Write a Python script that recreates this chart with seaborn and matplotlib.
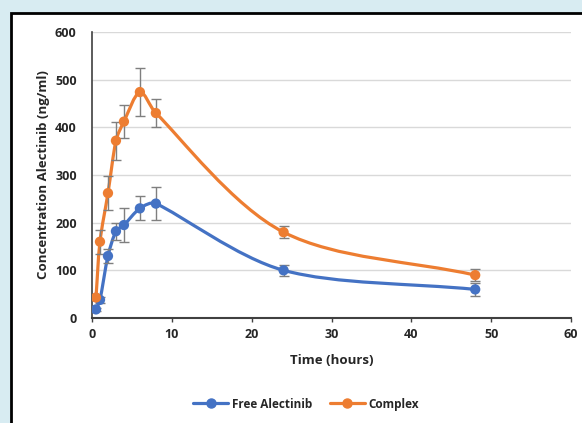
import matplotlib
matplotlib.use("Agg")
import matplotlib.pyplot as plt
import seaborn as sns
import numpy as np
import pandas as pd
from matplotlib.path import Path
from matplotlib.patches import PathPatch, Rectangle
from matplotlib.lines import Line2D

time_h = [0.5, 1, 2, 3, 4, 6, 8, 24, 48]
free_vals = [18, 38, 130, 182, 195, 230, 240, 100, 60]
free_err = [4, 6, 14, 18, 35, 25, 35, 12, 13]
complex_vals = [43, 160, 262, 372, 412, 474, 430, 180, 90]
complex_err = [5, 25, 35, 40, 35, 50, 30, 12, 12]
series_names = ["Free Alectinib", "Complex"]
x_ticks = [0, 10, 20, 30, 40, 50, 60]
y_ticks = [0, 100, 200, 300, 400, 500, 600]

colors = {"Free Alectinib": "#4472C4", "Complex": "#ED7D31"}

sns.set_theme(style="white")
plt.rcParams["font.family"] = ["Open Sans", "DejaVu Sans"]

fig = plt.figure(figsize=(5.82, 4.23), dpi=100, facecolor="#d8ecf2")
fig.patches.append(Rectangle((11 / 582, -0.1), 1.2, (423 - 13) / 423 + 0.1,
                             transform=fig.transFigure, facecolor="white",
                             edgecolor="black", linewidth=2, zorder=-5))
ax = fig.add_axes([92 / 582, (423 - 318) / 423, (571 - 92) / 582, (318 - 32) / 423])
ax.set_zorder(2)
ax.set_facecolor("white")

df = pd.concat([
    pd.DataFrame({"t": time_h, "v": free_vals, "e": free_err, "s": series_names[0]}),
    pd.DataFrame({"t": time_h, "v": complex_vals, "e": complex_err, "s": series_names[1]}),
])

ax.set_xlim(0, 60)
ax.set_ylim(0, 600)


def smooth_path(x, y):
    # smoothed line like a spreadsheet "smoothed line": cubic Bezier segments whose
    # control points are computed in display space, then mapped back to data space
    disp = ax.transData.transform(np.column_stack([x, y]).astype(float))
    inv = ax.transData.inverted()
    n = len(disp)
    L = [np.hypot(*(disp[i + 1] - disp[i])) for i in range(n - 1)]
    verts = [disp[0]]
    codes = [Path.MOVETO]
    for i in range(n - 1):
        p1, p2 = disp[i], disp[i + 1]
        if i > 0:
            t1 = disp[i + 1] - disp[i - 1]
            c1 = p1 + t1 * min(1 / 6, L[i] / (L[i - 1] + L[i]) / 3.0)
        else:
            c1 = p1 + (p2 - p1) / 3.0
        if i + 2 < n:
            t2 = disp[i + 2] - disp[i]
            c2 = p2 - t2 * min(1 / 6, L[i] / (L[i] + L[i + 1]) / 3.0)
        else:
            c2 = p2 - (p2 - p1) / 3.0
        verts += [c1, c2, p2]
        codes += [Path.CURVE4] * 3
    return Path(inv.transform(np.array(verts)), codes)


for name in series_names:
    sub = df[df["s"] == name]
    c = colors[name]
    ax.add_patch(PathPatch(smooth_path(sub["t"].values, sub["v"].values),
                           facecolor="none", edgecolor=c, linewidth=2.3, zorder=3))
    ax.errorbar(sub["t"], sub["v"], yerr=sub["e"], fmt="none", ecolor="#7f7f7f",
                elinewidth=1, capsize=3.5, capthick=1, zorder=4)
sns.scatterplot(data=df, x="t", y="v", hue="s", palette=colors, s=55,
                edgecolor="none", ax=ax, zorder=5, legend=False)

ax.set_xticks(x_ticks)
ax.set_yticks(y_ticks)
ax.set_xticklabels([str(v) for v in x_ticks], fontsize=9, fontweight="bold")
ax.set_yticklabels([str(v) for v in y_ticks], fontsize=9, fontweight="bold")
ax.yaxis.grid(True, color="#d9d9d9", linewidth=1)
ax.set_axisbelow(True)
for s in ["top", "right"]:
    ax.spines[s].set_visible(False)
ax.spines["left"].set_color("#404040")
ax.spines["bottom"].set_color("#404040")
ax.spines["left"].set_linewidth(1.2)
ax.spines["bottom"].set_linewidth(1.5)
ax.tick_params(axis="x", length=3, width=1, color="#404040", pad=4, direction="out", bottom=True)
ax.tick_params(axis="y", length=0, pad=11)

ax.set_xlabel("Time (hours)", fontsize=9.5, fontweight="bold")
ax.set_ylabel("Concentration Alectinib (ng/ml)", fontsize=9.5, fontweight="bold")
ax.xaxis.set_label_coords(0.5, (318 - 354) / 286)
ax.yaxis.set_label_coords((50 - 92) / 479, 0.5)

handles = [Line2D([0], [0], color=colors[n], lw=2.3, marker="o", markersize=6.5) for n in series_names]
fig.legend(handles, series_names, loc="center", bbox_to_anchor=(306 / 582, 1 - 404 / 423),
           ncol=2, frameon=False, prop={"weight": "bold", "size": 8.5}, handlelength=3.0,
           columnspacing=1.5, handletextpad=0.3)

fig.savefig("out.png", dpi=100, facecolor=fig.get_facecolor())
